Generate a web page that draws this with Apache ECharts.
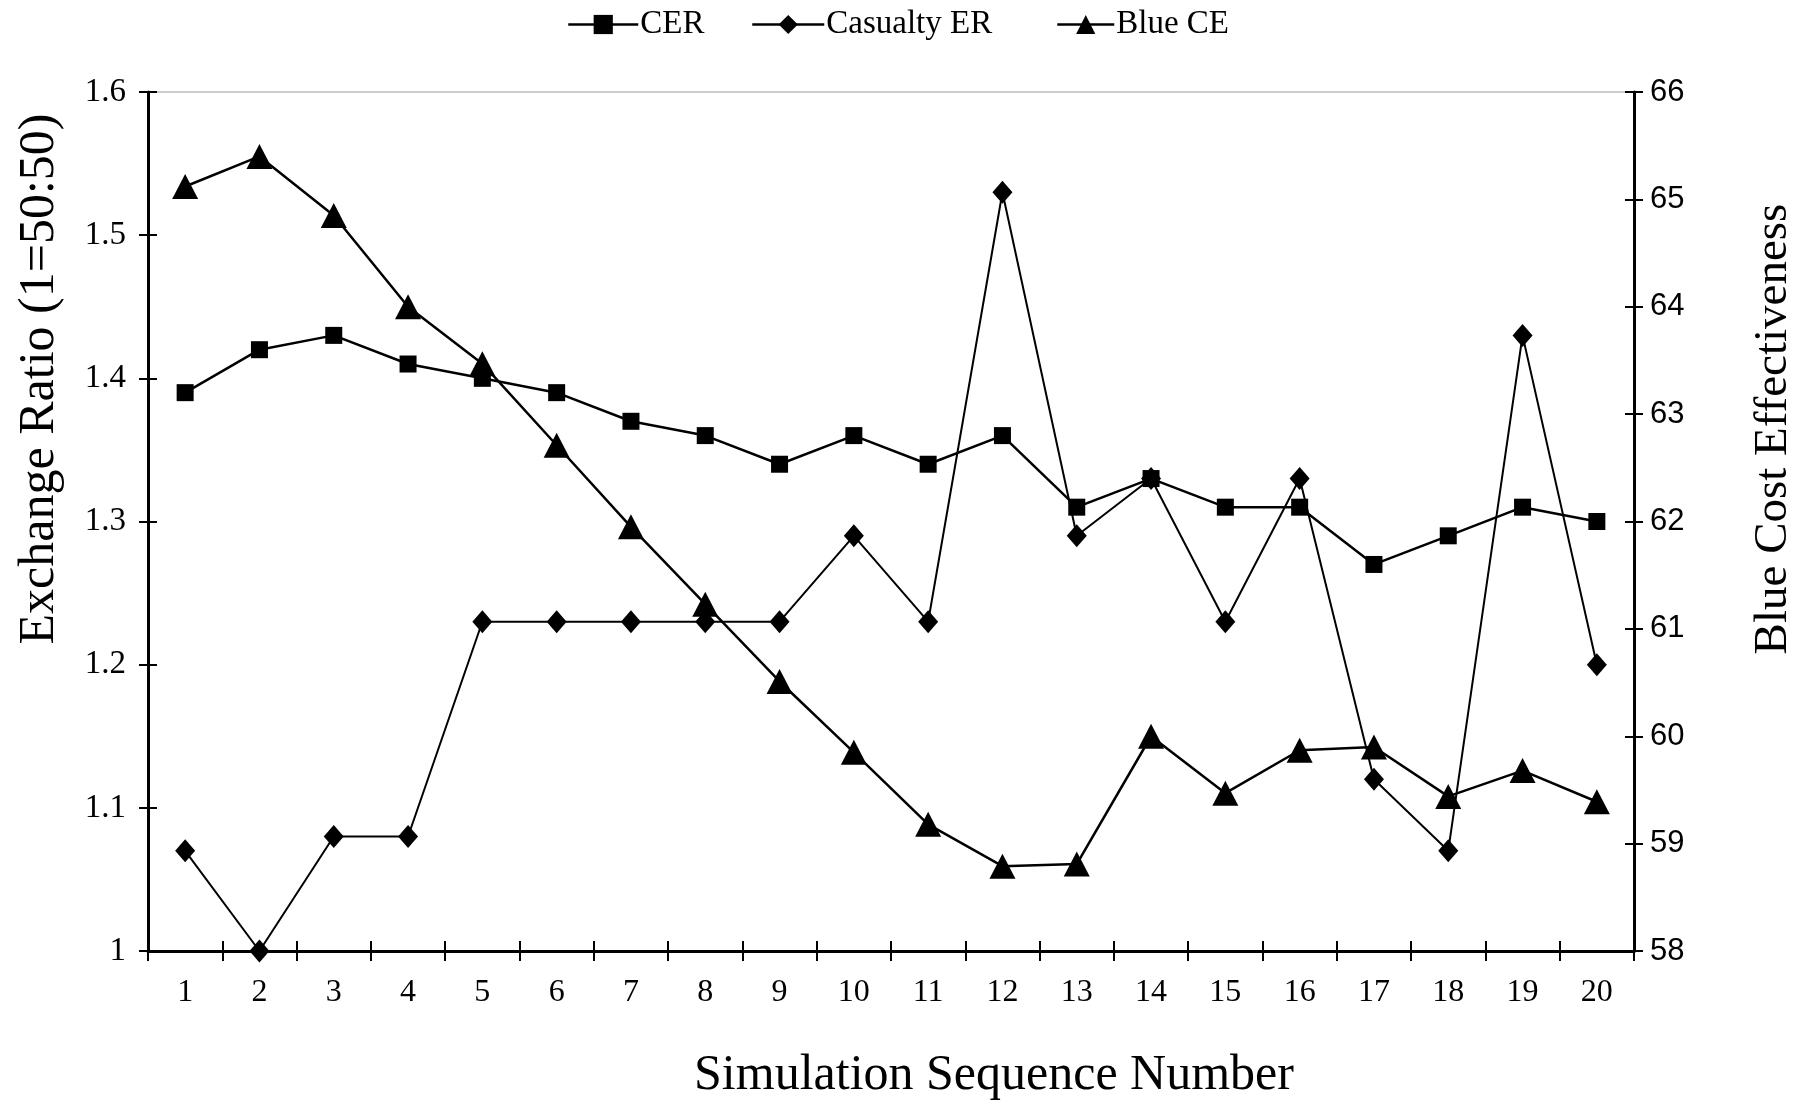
<!DOCTYPE html>
<html>
<head>
<meta charset="utf-8">
<script src="https://cdn.jsdelivr.net/npm/echarts@6/dist/echarts.min.js"></script>
<style>
  html, body { margin: 0; padding: 0; background: #fff; }
  #chart { width: 1800px; height: 1105px; }
</style>
</head>
<body>
<div id="chart"></div>
<script>
const categories = ['1', '2', '3', '4', '5', '6', '7', '8', '9', '10',
  '11', '12', '13', '14', '15', '16', '17', '18', '19', '20'];
const cer = [1.39, 1.42, 1.43, 1.41, 1.40, 1.39, 1.37, 1.36, 1.34, 1.36,
  1.34, 1.36, 1.31, 1.33, 1.31, 1.31, 1.27, 1.29, 1.31, 1.30];
const casualtyEr = [1.07, 1.00, 1.08, 1.08, 1.23, 1.23, 1.23, 1.23, 1.23, 1.29,
  1.23, 1.53, 1.29, 1.33, 1.23, 1.33, 1.12, 1.07, 1.43, 1.20];
const blueCe = [65.12, 65.40, 64.85, 64.00, 63.47, 62.71, 61.95, 61.23, 60.51, 59.85,
  59.18, 58.79, 58.81, 60.00, 59.47, 59.87, 59.90, 59.44, 59.68, 59.39];

const serif = '"Liberation Serif", "Times New Roman", serif';
const sans = '"Liberation Sans", Arial, sans-serif';

const chart = echarts.init(document.getElementById('chart'));

const lineStyle = { color: '#000', width: 2.5 };
const itemStyle = { color: '#000' };

function legendItem(name, left, width) {
  return {
    data: [name],
    left: left,
    top: 3,
    itemWidth: width,
    itemHeight: 24,
    itemGap: 0,
    lineStyle: { width: 2.5, color: '#000' },
    textStyle: { fontFamily: serif, fontSize: 33, color: '#000', padding: [0, 0, 0, -3] }
  };
}

chart.setOption({
  animation: false,
  backgroundColor: '#fff',
  legend: [
    legendItem('CER', 562, 70),
    legendItem('Casualty ER', 746, 72),
    legendItem('Blue CE', 1051, 57)
  ],
  grid: {
    left: 148, right: 166, top: 92, bottom: 154,
    show: true, borderColor: '#999', borderWidth: 1
  },
  xAxis: [
    {
      type: 'category',
      data: categories,
      position: 'bottom',
      boundaryGap: true,
      axisLine: { lineStyle: { color: '#000', width: 3 } },
      axisTick: { show: true, length: 10, lineStyle: { color: '#000', width: 2 } },
      axisLabel: { margin: 26, fontFamily: serif, fontSize: 32, color: '#000' },
      splitLine: { show: false }
    },
    {
      type: 'category',
      data: categories,
      position: 'bottom',
      boundaryGap: true,
      axisLine: { show: false },
      axisTick: { show: true, inside: true, length: 10, lineStyle: { color: '#000', width: 2 } },
      axisLabel: { show: false },
      splitLine: { show: false }
    }
  ],
  yAxis: [
    {
      type: 'value',
      position: 'left',
      min: 1, max: 1.6, interval: 0.1,
      axisLine: { show: true, lineStyle: { color: '#000', width: 3 } },
      axisTick: { show: true, length: 9, lineStyle: { color: '#000', width: 2 } },
      axisLabel: { margin: 22, fontFamily: serif, fontSize: 33, color: '#000' },
      splitLine: { show: false }
    },
    {
      type: 'value',
      position: 'right',
      min: 58, max: 66, interval: 1,
      axisLine: { show: true, lineStyle: { color: '#000', width: 3 } },
      axisTick: { show: true, length: 9, lineStyle: { color: '#000', width: 2 } },
      axisLabel: { margin: 16, fontFamily: sans, fontSize: 31, color: '#000' },
      splitLine: { show: false }
    },
    {
      type: 'value',
      position: 'left',
      min: 1, max: 1.6, interval: 0.1,
      axisLine: { show: false },
      axisTick: { show: true, inside: true, length: 9, lineStyle: { color: '#000', width: 2 } },
      axisLabel: { show: false },
      splitLine: { show: false }
    },
    {
      type: 'value',
      position: 'right',
      min: 58, max: 66, interval: 1,
      axisLine: { show: false },
      axisTick: { show: true, inside: true, length: 9, lineStyle: { color: '#000', width: 2 } },
      axisLabel: { show: false },
      splitLine: { show: false }
    }
  ],
  graphic: [
    {
      type: 'text', x: 994, y: 1076,
      style: { text: 'Simulation Sequence Number', font: '50px ' + serif, fill: '#000',
        textAlign: 'center', textVerticalAlign: 'middle' }
    },
    {
      type: 'text', x: 40, y: 379, rotation: Math.PI / 2,
      style: { text: 'Exchange Ratio (1=50:50)', font: '50px ' + serif, fill: '#000',
        textAlign: 'center', textVerticalAlign: 'middle' }
    },
    {
      type: 'text', x: 1774, y: 429, rotation: Math.PI / 2,
      style: { text: 'Blue Cost Effectiveness', font: '47px ' + serif, fill: '#000',
        textAlign: 'center', textVerticalAlign: 'middle' }
    }
  ],
  series: [
    {
      name: 'CER', type: 'line', data: cer,
      xAxisIndex: 0, yAxisIndex: 0,
      symbol: 'rect', symbolSize: 17,
      lineStyle: lineStyle, itemStyle: itemStyle
    },
    {
      name: 'Casualty ER', type: 'line', data: casualtyEr,
      xAxisIndex: 0, yAxisIndex: 0,
      symbol: 'diamond', symbolSize: [20, 23],
      lineStyle: { color: '#000', width: 2 }, itemStyle: itemStyle
    },
    {
      name: 'Blue CE', type: 'line', data: blueCe,
      xAxisIndex: 0, yAxisIndex: 1,
      symbol: 'triangle', symbolSize: [26, 25],
      lineStyle: lineStyle, itemStyle: itemStyle
    }
  ]
});
</script>
</body>
</html>
